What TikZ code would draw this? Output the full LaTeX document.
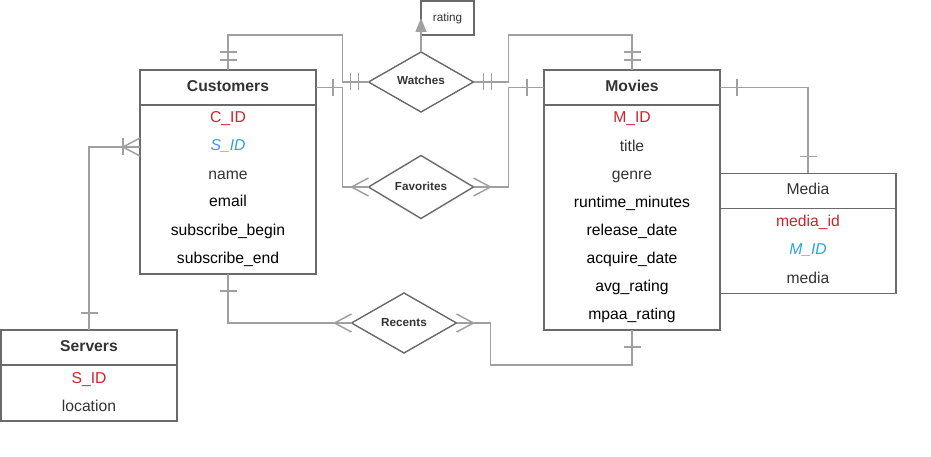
\documentclass[tikz,border=0pt]{standalone}
\usepackage{fontspec}
\setmainfont{Liberation Sans}
\usetikzlibrary{shapes.geometric, decorations.markings, arrows.meta}

\definecolor{linegray}{HTML}{A0A0A0}
\definecolor{boxgray}{HTML}{6A6A6A}
\definecolor{pkred}{HTML}{D0222E}
\definecolor{fkblue}{HTML}{2BA3DC}
\definecolor{txtgray}{HTML}{333333}

\tikzset{
  entity/.style={draw=boxgray, line width=1.4pt, minimum width=176pt, minimum height=35pt,
    inner sep=0pt, outer sep=0pt, text height=11.3pt, text depth=3.3pt,
    font=\fontsize{15.7}{18}\selectfont\bfseries, text=txtgray},
  body/.style={draw=boxgray, line width=1.4pt, minimum width=176pt, inner sep=0pt, outer sep=0pt,
    anchor=north},
  row/.style={minimum width=176pt, inner sep=0pt, outer sep=0pt, text height=11.3pt, text depth=3.3pt,
    font=\fontsize{15.7}{18}\selectfont},
  pk/.style={row, text=pkred},
  fk/.style={row, text=fkblue, font=\fontsize{15.7}{18}\selectfont\itshape},
  att/.style={row, text=txtgray},
  attb/.style={row, text=black},
  relation/.style={diamond, draw=boxgray, line width=1.4pt, minimum width=105pt, minimum height=60pt,
    inner sep=0pt, outer sep=0pt, text height=8.5pt, text depth=2.5pt,
    font=\fontsize{11.7}{14}\selectfont\bfseries, text=txtgray},
  rel/.style={draw=linegray, line width=1.5pt},
  % cardinality marks
  bar at/.style={postaction={decorate, decoration={markings, mark=at position #1 with
    {\draw[linegray, line width=1.5pt] (0pt,-8.5pt) -- (0pt,8.5pt);}}}},
  crow start/.style={postaction={decorate, decoration={markings, mark=at position 17pt with
    {\draw[linegray, line width=1.5pt] (-17pt,9pt) -- (0pt,0pt) -- (-17pt,-9pt);}}}},
  crow end/.style={postaction={decorate, decoration={markings, mark=at position -17pt with
    {\draw[linegray, line width=1.5pt] (17pt,9pt) -- (0pt,0pt) -- (17pt,-9pt);}}}}
}

\begin{document}
\begin{tikzpicture}[x=1pt, y=-1pt]
    \useasboundingbox (0,0) rectangle (931,457);

    % Customers
    \node[entity] (cust) at (228,87.5) {Customers};
    \node[body, minimum height=169pt] (custbody) at (cust.south) {};
    \foreach \i/\txt/\sty in {0/C\_ID/pk, 1/S\_ID/fk, 2/name/att, 3/email/attb,
        4/subscribe\_begin/attb, 5/subscribe\_end/attb}
        \node[style=\sty] (cust\i) at (228,{119+28*\i}) {\txt};

    % Movies
    \node[entity] (mov) at (632,87.5) {Movies};
    \node[body, minimum height=225pt] (movbody) at (mov.south) {};
    \foreach \i/\txt/\sty in {0/M\_ID/pk, 1/title/att, 2/genre/att, 3/runtime\_minutes/attb,
        4/release\_date/attb, 5/acquire\_date/attb, 6/avg\_rating/attb, 7/mpaa\_rating/attb}
        \node[style=\sty] (mov\i) at (632,{119+28.1*\i}) {\txt};

    % Media
    \node[entity, font=\fontsize{15.7}{18}\selectfont] (media) at (808,191) {Media};
    \node[body, minimum height=85pt] (mediabody) at (media.south) {};
    \foreach \i/\txt/\sty in {0/media\_id/pk, 1/M\_ID/fk, 2/media/att}
        \node[style=\sty] (media\i) at (808,{222+28.5*\i}) {\txt};

    % Servers
    \node[entity] (serv) at (89,347.5) {Servers};
    \node[body, minimum height=56pt] (servbody) at (serv.south) {};
    \foreach \i/\txt/\sty in {0/S\_ID/pk, 1/location/att}
        \node[style=\sty] (serv\i) at (89,{379+28*\i}) {\txt};

    % relationships
    \node[relation] (watch) at (421,82) {Watches};
    \node[relation] (fav) at (421,187) {Favorites};
    \node[relation] (rec) at (404,323) {Recents};
    \node[draw=boxgray, line width=1.4pt, minimum width=53pt, minimum height=34pt, inner sep=0pt,
        outer sep=0pt, font=\fontsize{11.7}{14}\selectfont, text=txtgray] (rating) at (447.5,18) {rating};

    % connectors
    \draw[rel, bar at=10pt, bar at=18pt, bar at=-10pt, bar at=-18pt]
        (cust.north) -- ++(0,-35) -| ([xshift=-26pt]watch.west) -- (watch.west);
    \draw[rel, bar at=10pt, bar at=18pt, bar at=-10pt, bar at=-18pt]
        (watch.east) -- ++(35,0) |- ([yshift=35pt]mov.north) -- (mov.north);
    \draw[rel, -{Triangle[length=14pt,width=11pt]}] (watch.north) -- (rating.west);

    \draw[rel, bar at=17pt, crow end] (cust.east) -| ([xshift=-26pt]fav.west) -- (fav.west);
    \draw[rel, crow start, bar at=-17pt] (fav.east) -- ++(35,0) |- (mov.west);

    \draw[rel, bar at=17pt, crow end] (custbody.south) |- (rec.west);
    \draw[rel, crow start, bar at=-17pt]
        (rec.east) -- ++(34,0) |- ([yshift=-35pt]movbody.south) -- (movbody.south);

    \draw[rel, bar at=17pt, bar at=-17pt] (mov.east) -| (media.north);
    \draw[rel, bar at=17pt, bar at=-17pt, crow end] (serv.north) |- (cust1.west);
\end{tikzpicture}
\end{document}
